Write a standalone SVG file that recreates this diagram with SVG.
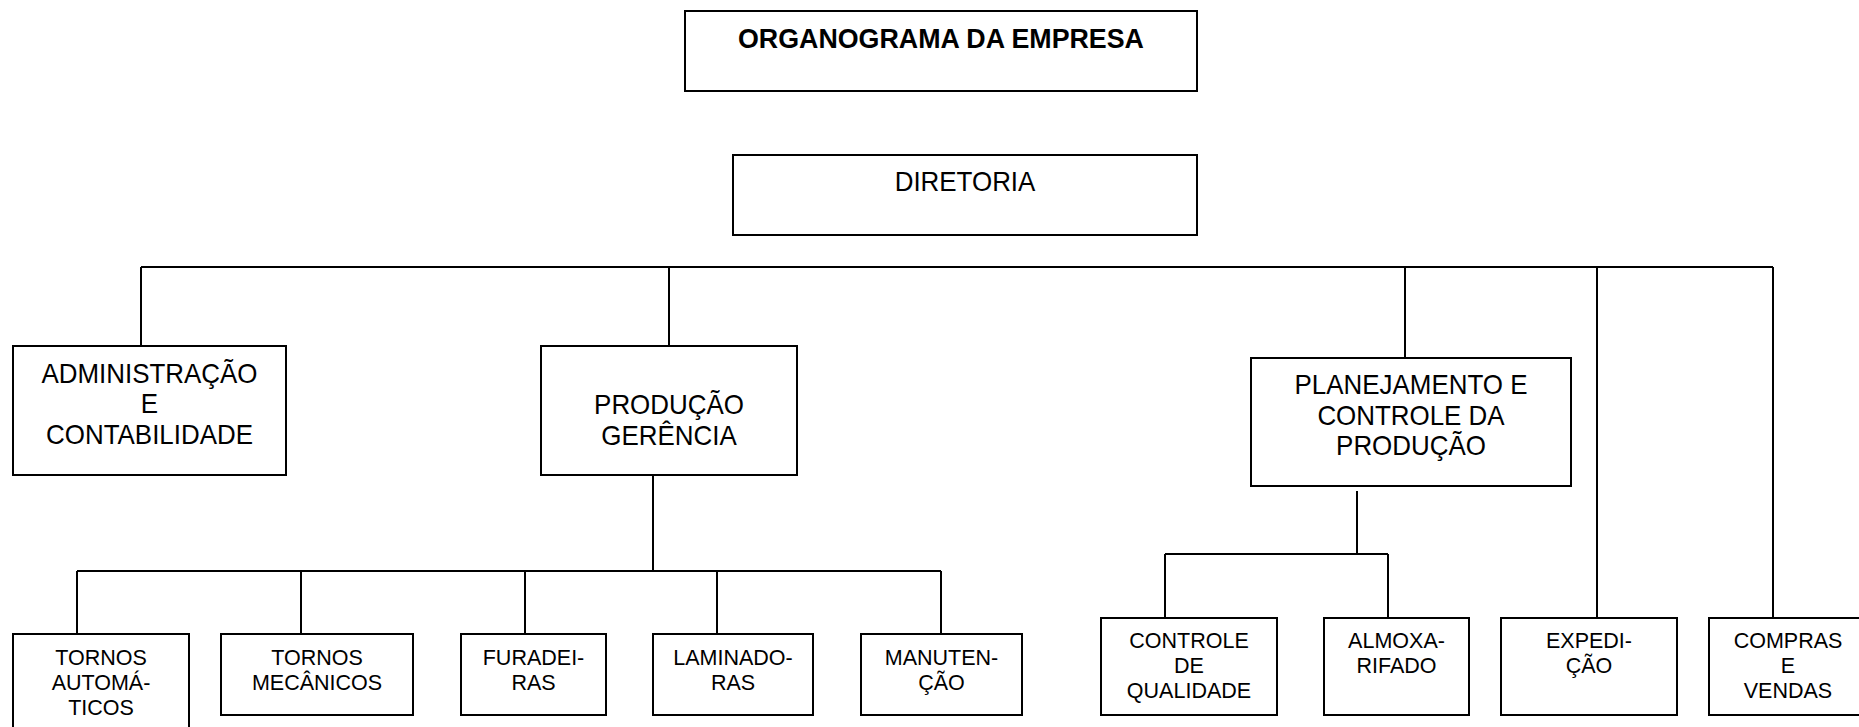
<svg xmlns="http://www.w3.org/2000/svg" width="1859" height="727" viewBox="0 0 1859 727">
<style>
.box{fill:#fff;stroke:#000;stroke-width:2}
.ln{fill:none;stroke:#000;stroke-width:2}
.t{font-family:"Liberation Sans",Arial,sans-serif;fill:#000;text-anchor:middle}
.big{font-size:28.5px}
.sm{font-size:21.5px}
.ttl{font-size:26.8px;font-weight:bold}
</style>
<rect x="0" y="0" width="1859" height="727" fill="#fff"/>
<g id="connectors">
<path class="ln" d="M141 267H1773M141 267V346M669 267V346M1405 267V362M1597 267V618M1773 267V618"/>
<path class="ln" d="M653 475V571M77 571H941M77 571V634M301 571V634M525 571V634M717 571V634M941 571V634"/>
<path class="ln" d="M1357 491V554M1165 554H1388M1165 554V618M1388 554V618"/>
</g>
<g id="titulo">
<rect class="box" x="685" y="11" width="512" height="80"/>
<text class="t ttl" x="941" y="48">ORGANOGRAMA DA EMPRESA</text>
</g>
<g id="diretoria">
<rect class="box" x="733" y="155" width="464" height="80"/>
<text class="t big" transform="translate(965 191) scale(0.91 1)">DIRETORIA</text>
</g>
<g id="administracao">
<rect class="box" x="13" y="346" width="273" height="129"/>
<text class="t big" transform="translate(149.5 383) scale(0.91 1)">ADMINISTRAÇÃO</text>
<text class="t big" transform="translate(149.5 413) scale(0.91 1)">E</text>
<text class="t big" transform="translate(149.5 444) scale(0.91 1)">CONTABILIDADE</text>
</g>
<g id="producao">
<rect class="box" x="541" y="346" width="256" height="129"/>
<text class="t big" transform="translate(669 414) scale(0.91 1)">PRODUÇÃO</text>
<text class="t big" transform="translate(669 445) scale(0.91 1)">GERÊNCIA</text>
</g>
<g id="planejamento">
<rect class="box" x="1251" y="358" width="320" height="128"/>
<text class="t big" transform="translate(1411 394) scale(0.91 1)">PLANEJAMENTO E</text>
<text class="t big" transform="translate(1411 425) scale(0.91 1)">CONTROLE DA</text>
<text class="t big" transform="translate(1411 455) scale(0.91 1)">PRODUÇÃO</text>
</g>
<g id="tornos-automaticos">
<rect class="box" x="13" y="634" width="176" height="110"/>
<text class="t sm" x="101" y="665">TORNOS</text>
<text class="t sm" x="101" y="690">AUTOMÁ-</text>
<text class="t sm" x="101" y="715">TICOS</text>
</g>
<g id="tornos-mecanicos">
<rect class="box" x="221" y="634" width="192" height="81"/>
<text class="t sm" x="317" y="665">TORNOS</text>
<text class="t sm" x="317" y="690">MECÂNICOS</text>
</g>
<g id="furadeiras">
<rect class="box" x="461" y="634" width="145" height="81"/>
<text class="t sm" x="533.5" y="665">FURADEI-</text>
<text class="t sm" x="533.5" y="690">RAS</text>
</g>
<g id="laminadoras">
<rect class="box" x="653" y="634" width="160" height="81"/>
<text class="t sm" x="733" y="665">LAMINADO-</text>
<text class="t sm" x="733" y="690">RAS</text>
</g>
<g id="manutencao">
<rect class="box" x="861" y="634" width="161" height="81"/>
<text class="t sm" x="941.5" y="665">MANUTEN-</text>
<text class="t sm" x="941.5" y="690">ÇÃO</text>
</g>
<g id="controle-qualidade">
<rect class="box" x="1101" y="618" width="176" height="97"/>
<text class="t sm" x="1189" y="648">CONTROLE</text>
<text class="t sm" x="1189" y="673">DE</text>
<text class="t sm" x="1189" y="698">QUALIDADE</text>
</g>
<g id="almoxarifado">
<rect class="box" x="1324" y="618" width="145" height="97"/>
<text class="t sm" x="1396.5" y="648">ALMOXA-</text>
<text class="t sm" x="1396.5" y="673">RIFADO</text>
</g>
<g id="expedicao">
<rect class="box" x="1501" y="618" width="176" height="97"/>
<text class="t sm" x="1589" y="648">EXPEDI-</text>
<text class="t sm" x="1589" y="673">ÇÃO</text>
</g>
<g id="compras-vendas">
<rect class="box" x="1709" y="618" width="160" height="97"/>
<text class="t sm" x="1788" y="648">COMPRAS</text>
<text class="t sm" x="1788" y="673">E</text>
<text class="t sm" x="1788" y="698">VENDAS</text>
</g>
</svg>
